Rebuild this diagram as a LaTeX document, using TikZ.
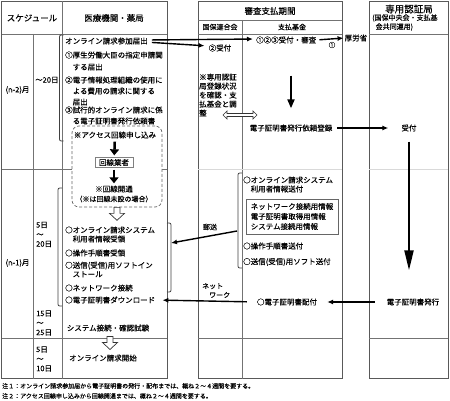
\documentclass[tikz,border=0pt]{standalone}
\usepackage{fontspec}
\setmainfont{Noto Sans CJK JP}[FakeBold=0.25]
\usetikzlibrary{arrows.meta,shapes.arrows,calc}

\begin{document}
\begin{tikzpicture}[x=1pt,y=-1pt,
    txt/.style={inner sep=0pt, font=\fontsize{7.5}{9}\selectfont},
    item/.style={txt, anchor=west, align=left},
    head/.style={inner sep=0pt, font=\fontsize{8.5}{10}\selectfont},
    small/.style={font=\fontsize{7}{9}\selectfont},
    frame/.style={draw=black!65, line width=0.9pt},
    grid/.style={draw=black!55, line width=0.6pt},
    faint/.style={draw=black!15, line width=0.6pt},
    bracket/.style={draw=black!75, line width=0.8pt},
    arrow/.style={draw=black, line width=1.4pt, -{Latex[length=6pt,width=5pt]}},
    fatarrow/.style={draw=black, line width=2.5pt, -{Triangle[length=6pt,width=9pt]}},
    longarrow/.style={draw=black, line width=2.2pt, -{Triangle[length=20pt,width=9pt]}},
    hollowdown/.pic={\draw [black!80, line width=0.7pt, fill=white] (-3,0) -- (3,0) -- (3,6) -- (7.5,6) -- (0,13) -- (-7.5,6) -- (-3,6) -- cycle;}
]
    \useasboundingbox (0,0) rectangle (450,401);

    \draw [frame] (1.5,1.5) rectangle (167,378.5);
    \draw [grid] (1.5,34) -- (167,34);
    \draw [grid] (62,1.5) -- (62,378.5);
    \draw [grid] (33,34) -- (33,378.5);
    \draw [grid] (1.5,169) -- (167,169);
    \draw [grid] (1.5,338) -- (167,338);

    \draw [frame] (198,1.5) rectangle (342,378.5);
    \draw [grid] (198,20) -- (342,20);
    \draw [grid] (198,34) -- (342,34);
    \draw [grid] (242,20) -- (242,378.5);
    \draw [faint] (198,169) -- (342,169);
    \draw [grid] (198,338) -- (342,338);

    \draw [frame] (369,1.5) rectangle (448,378.5);
    \draw [grid] (369,34) -- (448,34);
    \draw [faint] (369,169) -- (448,169);
    \draw [grid] (369,338) -- (448,338);

    \node [head] (sched) at (32,18) {スケジュール};
    \node [head] (clinic) at (114,18) {医療機関・薬局};
    \node [head] (exam) at (270,11) {審査支払期間};
    \node [txt, small] (kokuho) at (220,27) {国保連合会};
    \node [txt, small] (kikin) at (292,27) {支払基金};
    \node [inner sep=0pt, font=\fontsize{9.5}{11}\selectfont] (ca) at (409,9) {専用認証局};
    \node [item, small] (caop) at (372,22.5) {(国保中央会・支払基\\\hspace*{0.5em}金共同運用)};

    \node [txt] (mon2) at (17.5,90) {(n-2)月};
    \node [item] (till20) at (35,80) {～20日};
    \node [txt] (mon1) at (17.5,263) {(n-1)月};
    \node [item, font=\fontsize{7.5}{9.5}\selectfont] (d520) at (36,234.5) {5日\\～\\20日};
    \node [item, font=\fontsize{7.5}{9.5}\selectfont] (d1525) at (36,323) {15日\\～\\25日};
    \node [item, font=\fontsize{7.5}{9.5}\selectfont] (d510) at (36,359) {5日\\～\\10日};

    \draw [bracket] (63.5,35) .. controls (59.5,35) .. (59.5,39) -- (59.5,137) .. controls (59.5,141) .. (63.5,141);
    \node [item] (apply) at (65,41) {オンライン請求参加届出};
    \node [item, font=\fontsize{7.5}{12}\selectfont] (doc1) at (65,61) {①厚生労働大臣の指定申請関\\\hspace*{1em}する届出};
    \node [item, font=\fontsize{7.5}{11}\selectfont] (doc2) at (65,91) {②電子情報処理組織の使用に\\\hspace*{1em}よる費用の請求に関する\\\hspace*{1em}届出};
    \node [item, font=\fontsize{7.5}{11}\selectfont] (doc3) at (65,115.5) {③試行的オンライン請求に係\\\hspace*{1em}る電子証明書発行依頼書};

    \node [draw=black!60, dash pattern=on 3pt off 2pt, rounded corners=7pt, fill=white, line width=0.7pt, minimum width=90pt, minimum height=81pt] (linebox) at (117,166.5) {};
    \node [txt] (access) at (115,135) {※アクセス回線申し込み};
    \node [txt, draw=black!50, inner xsep=4pt, inner ysep=1.5pt] (vendor) at (114,162.5) {回線業者};
    \node [txt] (opened) at (114,189) {※回線開通};
    \node [txt, small] (unset) at (114,199) {（※は回線未設の場合）};
    \draw [fatarrow, shorten <=3pt, shorten >=2pt] (access) -- (vendor);
    \draw [fatarrow, shorten <=2pt, shorten >=2pt] (vendor) -- (opened);
    \pic at (linebox.south) {hollowdown};

    \draw [bracket] (62,188) .. controls (58,188) .. (58,192) -- (58,302) .. controls (58,306) .. (62,306);
    \draw [bracket] (167,223) .. controls (171,223) .. (171,227) -- (171,288) .. controls (171,292) .. (167,292);
    \node [item] (userinfo) at (65,234.5) {○オンライン請求システム\\\hspace*{1em}利用者情報受領};
    \node [item] (manual) at (65,253) {○操作手順書受領};
    \node [item] (install) at (65,269.5) {○送信(受信)用ソフトイン\\\hspace*{1em}ストール};
    \node [item] (network) at (65,288) {○ネットワーク接続};
    \node [item] (download) at (65,300) {○電子証明書ダウンロード};
    \node [txt] (test) at (108,328) {システム接続・確認試験};
    \coordinate (go) at (110,336.5);
    \pic at (go) {hollowdown};
    \node [txt] (start) at (103,358) {オンライン請求開始};

    \node [txt] (recv) at (220,48) {②受付};
    \node [item] (review) at (256,40) {①②③受付・審査};
    \node [txt] (mhlw) at (356,38) {厚労省};
    \node [txt, font=\fontsize{6.5}{8}\selectfont] (n1) at (332,45) {①};
    \node [item] (remark) at (199,95) {※専用認証\\局登録状況\\を確認・支\\払基金と調\\整};
    \node [double arrow, draw=black!80, fill=white, line width=0.7pt, inner sep=1.2pt, minimum height=34pt, double arrow head extend=2.5pt] (sync) at (240,115) {};
    \node [txt] (register) at (291,128) {電子証明書発行依頼登録};
    \node [txt] (accept) at (409,128) {受付};

    \draw [arrow, shorten <=4pt, shorten >=3pt] ([yshift=1pt]apply.east) -- ([yshift=1pt]review.west);
    \draw [arrow, shorten <=4pt, shorten >=4pt] ([yshift=-1.2pt]apply.east) -- ([yshift=2pt]recv.west);
    \draw [arrow, shorten <=3pt, shorten >=1pt] (review.east) -- (mhlw.west);
    \draw [draw=black, line width=2pt, -{Triangle[length=9pt,width=7pt]}, shorten <=32pt, shorten >=16pt] (review.south -| register.north) -- (register.north);
    \draw [arrow, shorten <=5pt, shorten >=13pt] (register.east) -- (accept.west);

    \draw [bracket] (242,173) .. controls (238,173) .. (238,177) -- (238,264) .. controls (238,268) .. (242,268);
    \node [item] (sendinfo) at (243,184.5) {○オンライン請求システム\\\hspace*{1em}利用者情報送付};
    \node [txt, draw=black!60, align=left, inner xsep=4.5pt, inner ysep=3pt, minimum height=35pt, font=\fontsize{7.5}{10}\selectfont] (netinfo) at (292,216.5) {ネットワーク接続用情報\\電子証明書取得用情報\\システム接続用情報};
    \node [item] (sendmanual) at (243,246) {○操作手順書送付};
    \node [item] (sendsoft) at (243,262) {○送信(受信)用ソフト送付};
    \node [txt, small] (mail) at (210,227) {郵送};
    \coordinate (mailfrom) at (237,231);
    \coordinate (mailto) at (171,243);
    \draw [arrow] (mailfrom) -- (mailto);

    \node [item, small] (netlabel) at (202,290.5) {ネット\\\hspace*{1em}ワーク};
    \node [txt] (deliver) at (287,302) {○電子証明書配付};
    \node [txt] (issue) at (413,302) {電子証明書発行};
    \draw [longarrow, shorten <=10pt, shorten >=28pt] (accept.south) -- (accept.south |- issue.north);
    \draw [arrow, shorten <=12pt, shorten >=10pt] (issue.west) -- (deliver.east);
    \draw [arrow, shorten <=10pt, shorten >=7pt] (deliver.west) -- (download.east);

    \node [item, font=\fontsize{6}{7}\selectfont] (note1) at (2,386) {注１：オンライン請求参加届から電子証明書の発行・配布までは、概ね２～４週間を要する。};
    \node [item, font=\fontsize{6}{7}\selectfont] (note2) at (2,396) {注２：アクセス回線申し込みから回線開通までは、概ね２～４週間を要する。};
\end{tikzpicture}
\end{document}
